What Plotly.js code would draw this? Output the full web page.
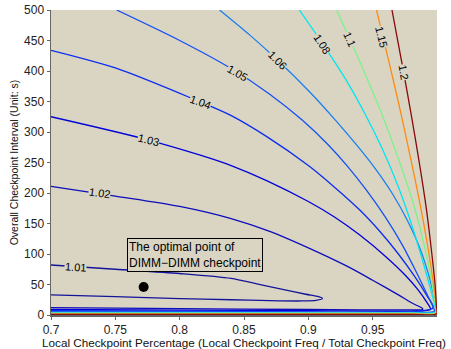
<!DOCTYPE html>
<html>
<head>
<meta charset="utf-8">
<script src="https://cdn.plot.ly/plotly-3.0.1.min.js"></script>
<style>html,body{margin:0;padding:0;background:#fff;}#chart{width:451px;height:349px;}</style>
</head>
<body>
<div id="chart"></div>
<script>
// Contour levels and their colours
const levels = ["1.01","1.02","1.03","1.04","1.05","1.06","1.08","1.1","1.15","1.2"];
const levelColors = ["#14149a","#0d0dbb","#0000d8","#0a2cf0","#1450f5","#1a7ff0","#00e6f0","#7cf28a","#ff8a10","#8a0a0a"];

// Contour paths (upper branch, tip, lower branch)
const c101x = [0.700,0.750,0.800,0.840,0.860,0.880,0.898,0.908,0.911,0.906,0.895,0.870,0.840,0.800,0.750,0.700];
const c101y = [82,75,68,60,51,42,34,30,27,24,23,23.5,25,27,30,33];
const c102x = [0.700,0.750,0.800,0.840,0.870,0.900,0.930,0.950,0.970,0.982,0.988,0.989,0.980,0.900,0.800,0.700];
const c102y = [211,195,178,158,137,110,80,57,33,18,12,9.5,8.5,9,10.5,12];
const c103x = [0.700,0.770,0.816,0.840,0.868,0.900,0.920,0.940,0.960,0.975,0.985,0.992,0.995,0.980,0.900,0.800,0.700];
const c103y = [325,290,262,245,220,186,161,131,96,66,42,21,9,6.5,7,8,9];
const c104x = [0.700,0.750,0.813,0.839,0.868,0.900,0.919,0.940,0.956,0.970,0.983,0.992,0.997,0.980,0.850,0.700];
const c104y = [434,405,352,328,292,245,212,172,136,100,62,32,12,5.5,6,7];
const c105x = [0.751,0.800,0.840,0.870,0.895,0.915,0.930,0.945,0.960,0.973,0.984,0.992,0.997,0.998,0.980,0.850,0.700];
const c105y = [500,450,404,362,320,280,245,205,160,115,70,35,13,6,4.5,5,5.5];
const c106x = [0.831,0.855,0.876,0.900,0.920,0.937,0.952,0.965,0.977,0.987,0.994,0.998,0.999,0.980,0.850,0.700];
const c106y = [500,458,418,368,322,280,240,200,155,108,62,25,6,4,4,4.5];
const c108x = [0.893,0.911,0.928,0.944,0.958,0.970,0.980,0.988,0.994,0.998,0.999,0.980,0.700];
const c108y = [500,445,390,330,270,210,150,95,50,18,5,3.5,3.5];
const c110x = [0.922,0.940,0.957,0.971,0.982,0.990,0.995,0.998,0.999,0.980,0.700];
const c110y = [500,415,330,250,180,115,65,25,4,3,3];
const c115x = [0.953,0.963,0.972,0.980,0.987,0.993,0.997,0.9992,0.9995,0.980,0.700];
const c115y = [500,412,330,252,180,110,55,18,3,2,2];
const c120x = [0.965,0.973,0.9805,0.987,0.992,0.996,0.9985,0.9995,0.9997,0.980,0.700];
const c120y = [500,410,322,240,170,100,50,15,2,1,1];

// Inline contour labels (text, x, y, angle)
const labelText = ["1.01","1.02","1.03","1.04","1.05","1.06","1.08","1.1","1.15","1.2"];
const labelX = [0.719,0.738,0.776,0.816,0.845,0.876,0.911,0.932,0.957,0.974];
const labelY = [79,200,287,350,397,418,445,452,456,398];
const labelAngle = [4,8,14,20,30,45,57,66,75,80];

// Optimal point
const optX = [0.772];
const optY = [46];
const optNote = "The optimal point of<br>DIMM\u2212DIMM checkpoint";

// Axis ticks
const xTicks = [0.7,0.75,0.8,0.85,0.9,0.95];
const xTickText = ["0.7","0.75","0.8","0.85","0.9","0.95"];
const yTicks = [0,50,100,150,200,250,300,350,400,450,500];

const pathsX = [c101x,c102x,c103x,c104x,c105x,c106x,c108x,c110x,c115x,c120x];
const pathsY = [c101y,c102y,c103y,c104y,c105y,c106y,c108y,c110y,c115y,c120y];

const bg = "#dad5c3";
const font = "Liberation Sans, Arial, sans-serif";

const traces = levels.map((lv, i) => ({
  type: "scatter", mode: "lines", x: pathsX[i], y: pathsY[i], name: lv,
  line: {color: levelColors[i], width: 1.3, shape: "spline", smoothing: 0.8},
  hoverinfo: "skip"
}));
traces.push({type: "scatter", mode: "markers", x: optX, y: optY,
  marker: {color: "#000", size: 10}, hoverinfo: "skip"});

const annotations = labelText.map((t, i) => ({
  x: labelX[i], y: labelY[i], xref: "x", yref: "y", text: t, showarrow: false,
  textangle: labelAngle[i], font: {family: font, size: 11, color: "#000"},
  bgcolor: bg, borderpad: 0
}));
annotations.push({x: 0.759, y: 126, xref: "x", yref: "y", xanchor: "left", yanchor: "top",
  text: optNote, align: "left", showarrow: false,
  font: {family: font, size: 12, color: "#000"},
  bgcolor: bg, bordercolor: "#000", borderwidth: 1, borderpad: 1});

const layout = {
  width: 451, height: 349,
  margin: {l: 51, r: 14, t: 10, b: 34},
  paper_bgcolor: "#fff", plot_bgcolor: bg,
  showlegend: false,
  font: {family: font, size: 12, color: "#222"},
  xaxis: {range: [0.7, 1.0], tickvals: xTicks, ticktext: xTickText,
    showgrid: false, zeroline: false, showline: true, linecolor: "#666", linewidth: 1.5,
    ticks: "outside", ticklen: 3, tickcolor: "#666",
    title: {text: "Local Checkpoint Percentage (Local Checkpoint Freq / Total Checkpoint Freq)",
      font: {family: font, size: 11.7, color: "#111"}, standoff: 4}},
  yaxis: {range: [0, 500], tickvals: yTicks,
    showgrid: false, zeroline: false, showline: true, linecolor: "#666", linewidth: 1.5,
    ticks: "outside", ticklen: 3, tickcolor: "#666",
    title: {text: "Overall Checkpoint Interval (Unit: s)",
      font: {family: font, size: 10.5, color: "#111"}, standoff: 3}},
  annotations: annotations
};

Plotly.newPlot("chart", traces, layout, {staticPlot: true, displayModeBar: false});
</script>
</body>
</html>
